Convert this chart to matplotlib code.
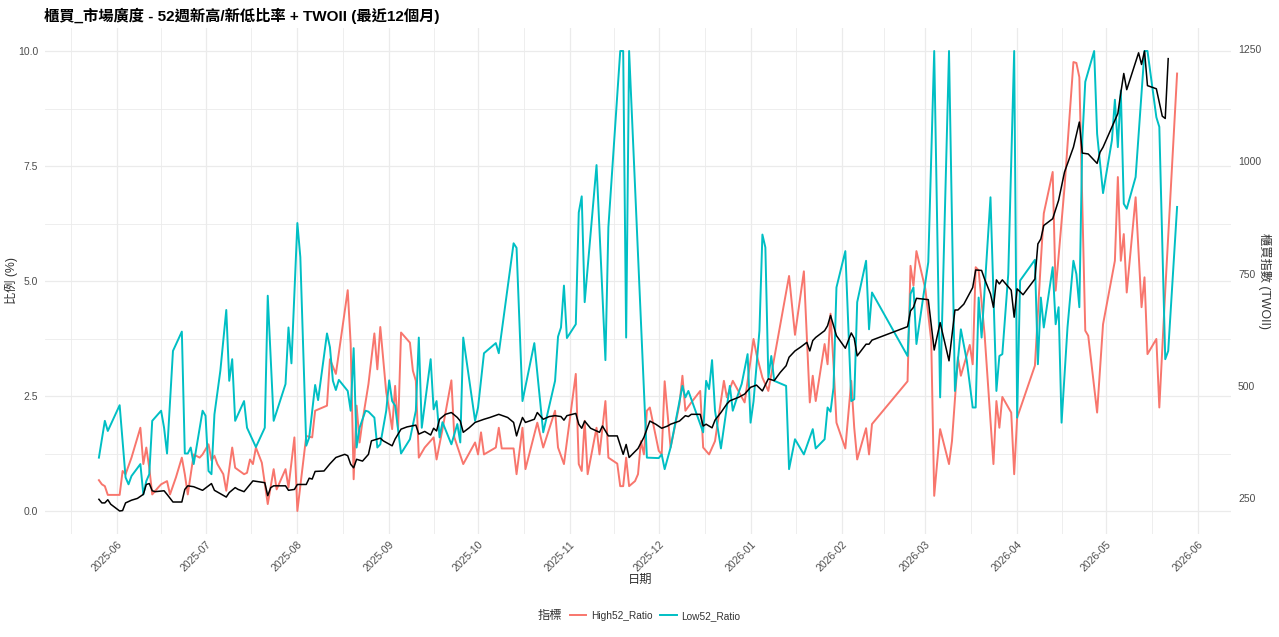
import pandas as pd
import numpy as np
import matplotlib
matplotlib.use("Agg")
import matplotlib.pyplot as plt
import matplotlib.dates as mdates
from matplotlib.ticker import FixedLocator, AutoMinorLocator
from matplotlib.lines import Line2D

# === Dados ===
low_dates = [
    "2025-05-26", "2025-05-28", "2025-05-29", "2025-06-02", "2025-06-04", "2025-06-05", "2025-06-06", "2025-06-09", "2025-06-10", "2025-06-11",
    "2025-06-12", "2025-06-13", "2025-06-16", "2025-06-17", "2025-06-18", "2025-06-20", "2025-06-23", "2025-06-24", "2025-06-25", "2025-06-26",
    "2025-06-27", "2025-06-30", "2025-07-01", "2025-07-02", "2025-07-03", "2025-07-04", "2025-07-06", "2025-07-08", "2025-07-09", "2025-07-10",
    "2025-07-11", "2025-07-14", "2025-07-15", "2025-07-18", "2025-07-21", "2025-07-22", "2025-07-24", "2025-07-28", "2025-07-29", "2025-07-30",
    "2025-08-01", "2025-08-02", "2025-08-04", "2025-08-05", "2025-08-07", "2025-08-08", "2025-08-11", "2025-08-12", "2025-08-13", "2025-08-14",
    "2025-08-15", "2025-08-18", "2025-08-19", "2025-08-20", "2025-08-21", "2025-08-22", "2025-08-24", "2025-08-25", "2025-08-27", "2025-08-28",
    "2025-08-29", "2025-08-31", "2025-09-01", "2025-09-02", "2025-09-03", "2025-09-05", "2025-09-08", "2025-09-10", "2025-09-11", "2025-09-12",
    "2025-09-15", "2025-09-16", "2025-09-17", "2025-09-18", "2025-09-19", "2025-09-22", "2025-09-24", "2025-09-25", "2025-09-26", "2025-09-30",
    "2025-10-01", "2025-10-03", "2025-10-07", "2025-10-08", "2025-10-13", "2025-10-14", "2025-10-16", "2025-10-20", "2025-10-23", "2025-10-27",
    "2025-10-28", "2025-10-29", "2025-10-30", "2025-10-31", "2025-11-03", "2025-11-04", "2025-11-05", "2025-11-06", "2025-11-10", "2025-11-13",
    "2025-11-14", "2025-11-18", "2025-11-19", "2025-11-20", "2025-11-21", "2025-11-27", "2025-12-01", "2025-12-02", "2025-12-03", "2025-12-05",
    "2025-12-09", "2025-12-10", "2025-12-11", "2025-12-16", "2025-12-17", "2025-12-18", "2025-12-19", "2025-12-20", "2025-12-22", "2025-12-25",
    "2025-12-26", "2025-12-28", "2025-12-29", "2025-12-31", "2026-01-01", "2026-01-02", "2026-01-04", "2026-01-05", "2026-01-06", "2026-01-07",
    "2026-01-08", "2026-01-09", "2026-01-13", "2026-01-14", "2026-01-16", "2026-01-19", "2026-01-22", "2026-01-23", "2026-01-26", "2026-01-27",
    "2026-01-28", "2026-01-29", "2026-01-30", "2026-02-02", "2026-02-04", "2026-02-05", "2026-02-06", "2026-02-09", "2026-02-10", "2026-02-11",
    "2026-02-23", "2026-02-24", "2026-02-25", "2026-02-26", "2026-03-02", "2026-03-04", "2026-03-06", "2026-03-09", "2026-03-11", "2026-03-13",
    "2026-03-15", "2026-03-17", "2026-03-18", "2026-03-19", "2026-03-20", "2026-03-23", "2026-03-25", "2026-03-26", "2026-03-27", "2026-03-29",
    "2026-03-31", "2026-04-01", "2026-04-02", "2026-04-07", "2026-04-08", "2026-04-09", "2026-04-10", "2026-04-13", "2026-04-14", "2026-04-15",
    "2026-04-16", "2026-04-18", "2026-04-20", "2026-04-21", "2026-04-22", "2026-04-23", "2026-04-24", "2026-04-27", "2026-04-28", "2026-04-30",
    "2026-05-03", "2026-05-04", "2026-05-05", "2026-05-06", "2026-05-07", "2026-05-08", "2026-05-11", "2026-05-14", "2026-05-15", "2026-05-18",
    "2026-05-19", "2026-05-21", "2026-05-22", "2026-05-25",
]
low_values = [
    1.16, 1.96, 1.74, 2.30, 0.73, 0.58, 0.76, 1.02, 0.36, 0.65,
    0.80, 1.96, 2.18, 1.81, 1.25, 3.48, 3.90, 1.25, 1.25, 1.38,
    1.02, 2.18, 2.07, 0.87, 0.80, 2.10, 3.05, 4.37, 2.83, 3.30,
    1.96, 2.39, 1.81, 1.39, 1.81, 4.68, 1.96, 2.76, 3.99, 3.21,
    6.26, 5.52, 1.42, 1.60, 2.74, 2.41, 3.86, 3.56, 2.83, 2.63,
    2.85, 2.61, 2.18, 3.54, 1.38, 1.81, 2.18, 2.16, 2.03, 1.38,
    1.45, 2.18, 2.84, 2.39, 2.29, 1.25, 1.56, 2.18, 3.77, 1.81,
    3.30, 2.21, 2.39, 1.60, 1.93, 1.45, 1.89, 1.49, 3.77, 1.96,
    2.25, 3.43, 3.65, 3.43, 5.82, 5.72, 2.39, 3.65, 1.71, 2.83,
    3.79, 3.99, 4.90, 3.76, 4.06, 6.49, 6.84, 4.54, 7.52, 3.28,
    6.17, 10.0, 10.0, 3.77, 10.0, 1.16, 1.15, 1.23, 0.91, 1.38,
    2.72, 2.47, 2.61, 1.71, 2.83, 2.65, 3.28, 2.18, 1.36, 2.72,
    2.18, 2.58, 2.76, 3.41, 1.92, 2.38, 3.92, 6.01, 5.73, 2.90,
    3.37, 2.83, 2.72, 0.91, 1.56, 1.23, 1.78, 1.36, 1.56, 2.25,
    2.16, 2.68, 4.86, 5.65, 2.39, 2.43, 4.54, 5.44, 3.95, 4.75,
    3.37, 4.72, 4.86, 3.63, 5.41, 10.0, 2.47, 10.0, 2.61, 3.95,
    3.27, 2.25, 2.25, 4.64, 3.77, 6.82, 2.61, 3.37, 3.41, 5.15,
    10.0, 2.03, 5.01, 5.46, 3.19, 4.64, 3.99, 5.30, 4.06, 4.43,
    1.92, 3.99, 5.44, 5.15, 4.43, 8.06, 9.33, 10.0, 8.20, 6.91,
    8.06, 8.94, 7.91, 9.14, 6.68, 6.57, 7.26, 10.0, 10.0, 8.56,
    8.35, 3.30, 3.48, 6.61,
]

high_dates = [
    "2025-05-26", "2025-05-27", "2025-05-28", "2025-05-29", "2025-06-02", "2025-06-03", "2025-06-04", "2025-06-06", "2025-06-09", "2025-06-10",
    "2025-06-11", "2025-06-12", "2025-06-13", "2025-06-15", "2025-06-16", "2025-06-18", "2025-06-19", "2025-06-21", "2025-06-23", "2025-06-24",
    "2025-06-25", "2025-06-27", "2025-06-29", "2025-06-30", "2025-07-02", "2025-07-03", "2025-07-04", "2025-07-05", "2025-07-07", "2025-07-08",
    "2025-07-10", "2025-07-11", "2025-07-14", "2025-07-15", "2025-07-16", "2025-07-17", "2025-07-18", "2025-07-20", "2025-07-22", "2025-07-24",
    "2025-07-25", "2025-07-28", "2025-07-29", "2025-07-31", "2025-08-01", "2025-08-04", "2025-08-06", "2025-08-07", "2025-08-11", "2025-08-12",
    "2025-08-14", "2025-08-18", "2025-08-19", "2025-08-20", "2025-08-21", "2025-08-22", "2025-08-23", "2025-08-25", "2025-08-27", "2025-08-28",
    "2025-08-29", "2025-08-31", "2025-09-01", "2025-09-02", "2025-09-03", "2025-09-04", "2025-09-05", "2025-09-08", "2025-09-09", "2025-09-10",
    "2025-09-11", "2025-09-13", "2025-09-16", "2025-09-17", "2025-09-19", "2025-09-22", "2025-09-23", "2025-09-26", "2025-09-30", "2025-10-01",
    "2025-10-02", "2025-10-03", "2025-10-07", "2025-10-08", "2025-10-09", "2025-10-13", "2025-10-14", "2025-10-16", "2025-10-17", "2025-10-21",
    "2025-10-23", "2025-10-27", "2025-10-28", "2025-10-30", "2025-11-03", "2025-11-04", "2025-11-05", "2025-11-06", "2025-11-07", "2025-11-10",
    "2025-11-11", "2025-11-13", "2025-11-14", "2025-11-17", "2025-11-18", "2025-11-19", "2025-11-20", "2025-11-21", "2025-11-23", "2025-11-24",
    "2025-11-25", "2025-11-26", "2025-11-27", "2025-11-28", "2025-12-01", "2025-12-02", "2025-12-03", "2025-12-05", "2025-12-08", "2025-12-09",
    "2025-12-10", "2025-12-12", "2025-12-15", "2025-12-16", "2025-12-18", "2025-12-20", "2025-12-23", "2025-12-24", "2025-12-26", "2025-12-30",
    "2026-01-02", "2026-01-03", "2026-01-05", "2026-01-07", "2026-01-14", "2026-01-16", "2026-01-19", "2026-01-21", "2026-01-22", "2026-01-23",
    "2026-01-26", "2026-01-27", "2026-01-28", "2026-01-29", "2026-01-30", "2026-02-02", "2026-02-04", "2026-02-05", "2026-02-06", "2026-02-09",
    "2026-02-10", "2026-02-11", "2026-02-23", "2026-02-24", "2026-02-25", "2026-02-26", "2026-03-01", "2026-03-03", "2026-03-04", "2026-03-06",
    "2026-03-09", "2026-03-10", "2026-03-12", "2026-03-13", "2026-03-16", "2026-03-17", "2026-03-18", "2026-03-19", "2026-03-21", "2026-03-24",
    "2026-03-25", "2026-03-26", "2026-03-27", "2026-03-30", "2026-03-31", "2026-04-01", "2026-04-07", "2026-04-09", "2026-04-10", "2026-04-13",
    "2026-04-14", "2026-04-17", "2026-04-20", "2026-04-21", "2026-04-22", "2026-04-24", "2026-04-25", "2026-04-28", "2026-04-30", "2026-05-04",
    "2026-05-05", "2026-05-06", "2026-05-07", "2026-05-08", "2026-05-11", "2026-05-13", "2026-05-14", "2026-05-15", "2026-05-18", "2026-05-19",
    "2026-05-21", "2026-05-25",
]
high_values = [
    0.67, 0.58, 0.54, 0.35, 0.35, 0.87, 0.80, 1.16, 1.81, 1.02,
    1.38, 0.94, 0.36, 0.51, 0.58, 0.65, 0.36, 0.73, 1.16, 0.80,
    0.36, 1.23, 1.16, 1.23, 1.45, 1.10, 1.20, 1.02, 0.80, 0.44,
    1.38, 0.94, 0.80, 0.83, 1.12, 1.02, 1.38, 1.05, 0.15, 0.91,
    0.47, 0.91, 0.51, 1.60, 0.00, 1.63, 1.60, 2.18, 2.29, 3.30,
    2.98, 4.80, 3.63, 0.69, 2.29, 1.49, 1.96, 2.76, 3.86, 3.08,
    4.00, 2.58, 2.21, 1.78, 2.72, 1.78, 3.88, 3.66, 3.05, 2.83,
    1.16, 1.38, 1.60, 1.12, 1.78, 2.84, 1.60, 1.02, 1.49, 1.23,
    1.71, 1.23, 1.38, 1.81, 1.36, 1.36, 0.80, 1.81, 0.91, 1.92,
    1.38, 2.18, 1.38, 1.02, 2.98, 1.02, 0.87, 1.96, 0.80, 1.81,
    1.23, 2.39, 1.16, 1.03, 0.54, 0.54, 1.16, 0.54, 0.65, 0.80,
    1.52, 1.23, 2.18, 2.25, 1.31, 1.23, 2.82, 1.38, 2.32, 2.94,
    2.18, 2.36, 2.61, 1.38, 1.23, 1.52, 2.83, 2.47, 2.83, 2.36,
    3.74, 3.41, 2.90, 2.61, 5.11, 3.83, 5.21, 2.36, 2.94, 2.39,
    3.63, 3.19, 4.29, 3.19, 1.92, 1.36, 2.83, 1.81, 1.12, 1.80,
    1.23, 1.89, 2.82, 5.33, 4.90, 5.65, 4.83, 3.70, 0.33, 1.78,
    1.02, 1.52, 3.34, 2.94, 3.61, 3.19, 5.30, 5.23, 3.85, 1.02,
    2.39, 1.81, 2.48, 2.14, 0.80, 2.03, 3.16, 5.43, 6.47, 7.37,
    4.79, 7.04, 9.76, 9.74, 9.43, 3.92, 3.81, 2.14, 4.06, 5.44,
    7.26, 5.44, 6.02, 4.75, 6.82, 4.43, 5.08, 3.41, 3.74, 2.25,
    4.79, 9.51,
]

twoii_dates = [
    "2025-05-26", "2025-05-27", "2025-05-28", "2025-05-29", "2025-05-30", "2025-06-02", "2025-06-03", "2025-06-04", "2025-06-06", "2025-06-08",
    "2025-06-10", "2025-06-11", "2025-06-12", "2025-06-13", "2025-06-14", "2025-06-17", "2025-06-18", "2025-06-20", "2025-06-23", "2025-06-24",
    "2025-06-25", "2025-06-27", "2025-06-30", "2025-07-03", "2025-07-04", "2025-07-08", "2025-07-09", "2025-07-11", "2025-07-12", "2025-07-14",
    "2025-07-17", "2025-07-21", "2025-07-22", "2025-07-23", "2025-07-24", "2025-07-28", "2025-07-29", "2025-07-31", "2025-08-01", "2025-08-04",
    "2025-08-05", "2025-08-06", "2025-08-07", "2025-08-10", "2025-08-12", "2025-08-14", "2025-08-17", "2025-08-18", "2025-08-19", "2025-08-20",
    "2025-08-21", "2025-08-23", "2025-08-25", "2025-08-26", "2025-08-29", "2025-08-30", "2025-09-02", "2025-09-03", "2025-09-05", "2025-09-07",
    "2025-09-10", "2025-09-11", "2025-09-13", "2025-09-15", "2025-09-16", "2025-09-17", "2025-09-18", "2025-09-20", "2025-09-22", "2025-09-24",
    "2025-09-25", "2025-09-26", "2025-09-28", "2025-09-30", "2025-10-03", "2025-10-05", "2025-10-08", "2025-10-11", "2025-10-13", "2025-10-14",
    "2025-10-15", "2025-10-16", "2025-10-17", "2025-10-20", "2025-10-21", "2025-10-23", "2025-10-25", "2025-10-27", "2025-10-29", "2025-10-30",
    "2025-10-31", "2025-11-03", "2025-11-04", "2025-11-05", "2025-11-06", "2025-11-08", "2025-11-11", "2025-11-12", "2025-11-14", "2025-11-17",
    "2025-11-19", "2025-11-20", "2025-11-21", "2025-11-24", "2025-11-26", "2025-11-28", "2025-11-30", "2025-12-02", "2025-12-04", "2025-12-05",
    "2025-12-08", "2025-12-10", "2025-12-11", "2025-12-12", "2025-12-15", "2025-12-16", "2025-12-17", "2025-12-19", "2025-12-20", "2025-12-22",
    "2025-12-24", "2025-12-25", "2025-12-28", "2025-12-30", "2026-01-01", "2026-01-03", "2026-01-05", "2026-01-07", "2026-01-09", "2026-01-11",
    "2026-01-13", "2026-01-14", "2026-01-16", "2026-01-18", "2026-01-20", "2026-01-21", "2026-01-22", "2026-01-23", "2026-01-26", "2026-01-27",
    "2026-01-28", "2026-01-30", "2026-02-02", "2026-02-04", "2026-02-05", "2026-02-06", "2026-02-09", "2026-02-10", "2026-02-11", "2026-02-23",
    "2026-02-24", "2026-02-25", "2026-02-26", "2026-03-02", "2026-03-04", "2026-03-06", "2026-03-09", "2026-03-11", "2026-03-12", "2026-03-14",
    "2026-03-17", "2026-03-18", "2026-03-20", "2026-03-21", "2026-03-23", "2026-03-24", "2026-03-25", "2026-03-26", "2026-03-27", "2026-03-30",
    "2026-03-31", "2026-04-01", "2026-04-03", "2026-04-07", "2026-04-08", "2026-04-09", "2026-04-10", "2026-04-13", "2026-04-15", "2026-04-17",
    "2026-04-20", "2026-04-22", "2026-04-23", "2026-04-25", "2026-04-28", "2026-04-29", "2026-04-30", "2026-05-05", "2026-05-06", "2026-05-07",
    "2026-05-08", "2026-05-12", "2026-05-13", "2026-05-14", "2026-05-15", "2026-05-18", "2026-05-20", "2026-05-21", "2026-05-22",
]
twoii_values = [
    248, 240, 240, 247, 237, 222, 223, 240, 246, 250,
    259, 281, 283, 267, 265, 267, 259, 242, 242, 270,
    278, 276, 268, 283, 268, 253, 263, 274, 270, 265,
    289, 285, 256, 274, 278, 278, 268, 270, 281, 281,
    295, 293, 310, 311, 327, 341, 348, 345, 326, 318,
    337, 333, 348, 378, 384, 378, 367, 382, 404, 409,
    413, 393, 399, 391, 406, 400, 426, 437, 441, 430,
    422, 397, 407, 419, 426, 430, 437, 430, 419, 389,
    411, 430, 419, 426, 441, 426, 432, 434, 432, 424,
    434, 439, 415, 406, 422, 406, 397, 411, 389, 389,
    348, 370, 341, 361, 386, 422, 415, 406, 411, 415,
    422, 434, 432, 437, 437, 411, 415, 407, 424, 441,
    460, 467, 475, 482, 497, 502, 489, 516, 512, 530,
    545, 564, 578, 587, 597, 578, 601, 608, 623, 634,
    657, 612, 584, 618, 606, 567, 593, 593, 602, 632,
    667, 675, 695, 692, 580, 641, 556, 669, 669, 682,
    719, 758, 757, 738, 705, 675, 736, 727, 736, 713,
    653, 716, 703, 738, 816, 827, 857, 872, 913, 976,
    1031, 1087, 1018, 1016, 995, 1020, 1031, 1106, 1152, 1195,
    1159, 1241, 1215, 1245, 1168, 1161, 1100, 1095, 1228,
]

series_labels = ["High52_Ratio", "Low52_Ratio"]
series_colors = ["#F8766D", "#00BFC4"]
twoii_ticks = [250, 500, 750, 1000, 1250]

# === Preparação ===
high_x = pd.to_datetime(high_dates)
low_x = pd.to_datetime(low_dates)
tw_x = pd.to_datetime(twoii_dates)

tw_min = min(twoii_values)
tw_max = max(twoii_values)


def idx_to_ratio(v):
    return (np.asarray(v, dtype=float) - tw_min) / (tw_max - tw_min) * 10


def ratio_to_idx(r):
    return np.asarray(r, dtype=float) / 10 * (tw_max - tw_min) + tw_min


tw_scaled = idx_to_ratio(twoii_values)

plt.rcParams["font.family"] = ["Liberation Sans", "Noto Sans CJK TC", "DejaVu Sans"]

W, H = 1279, 637
fig = plt.figure(figsize=(W / 100, H / 100), dpi=100)
ax = fig.add_axes([45 / W, 1 - 534 / H, (1231 - 45) / W, (534 - 28) / H])

# === Linhas ===
ax.plot(high_x, high_values, color=series_colors[0], lw=1.4, zorder=3)
ax.plot(low_x, low_values, color=series_colors[1], lw=1.4, zorder=4)
ax.plot(tw_x, tw_scaled, color="black", lw=1.1, zorder=5)

# === Eixos ===
xmin = mdates.date2num(min(high_x.min(), low_x.min(), tw_x.min()))
xmax = mdates.date2num(max(high_x.max(), low_x.max(), tw_x.max()))
pad = (xmax - xmin) * 0.05
ax.set_xlim(xmin - pad, xmax + pad)
ax.set_ylim(-0.5, 10.5)

ax.xaxis.set_major_locator(mdates.MonthLocator())
ax.xaxis.set_major_formatter(mdates.DateFormatter("%Y-%m"))
month_starts = mdates.date2num(pd.date_range("2025-04-01", "2026-08-01", freq="MS"))
ax.xaxis.set_minor_locator(FixedLocator((month_starts[:-1] + month_starts[1:]) / 2))
ax.set_yticks([0, 2.5, 5, 7.5, 10])
ax.set_yticklabels(["0.0", "2.5", "5.0", "7.5", "10.0"])
ax.yaxis.set_minor_locator(AutoMinorLocator(2))

ax.grid(which="major", color="#EBEBEB", lw=0.9)
ax.grid(which="minor", color="#EBEBEB", lw=0.6)
ax.set_axisbelow(True)
for s in ax.spines.values():
    s.set_visible(False)

ax.tick_params(which="both", length=0)
ax.tick_params(axis="y", labelsize=7.5, labelcolor="#4D4D4D", pad=5)
ax.tick_params(axis="x", labelsize=7.5, labelcolor="#4D4D4D", pad=4)
for lbl in ax.get_xticklabels():
    lbl.set_rotation(45)
    lbl.set_ha("right")
    lbl.set_va("top")
    lbl.set_rotation_mode("anchor")

sec = ax.secondary_yaxis("right", functions=(ratio_to_idx, idx_to_ratio))
sec.set_yticks(twoii_ticks)
sec.tick_params(length=0, labelsize=7.5, labelcolor="#4D4D4D", pad=5)
for s in sec.spines.values():
    s.set_visible(False)

# === Textos ===
fig.text(44 / W, 1 - 16 / H, "櫃買_市場廣度 - 52週新高/新低比率 + TWOII (最近12個月)",
         ha="left", va="center", fontsize=11, fontweight="bold")
fig.text(640 / W, 1 - 580 / H, "日期", ha="center", va="center", fontsize=8.8, color="#333333")
fig.text(11 / W, 1 - 281 / H, "比例 (%)", ha="center", va="center", rotation=90,
         fontsize=8.8, color="#333333")
fig.text(1265 / W, 1 - 281 / H, "櫃買指數 (TWOII)", ha="center", va="center", rotation=270,
         fontsize=8.8, color="#333333")

# === Legenda ===
handles = [Line2D([0], [0], color=c, lw=1.4) for c in series_colors]
fig.text(562 / W, 1 - 616 / H, "指標", ha="right", va="center", fontsize=8.8, color="#333333")
fig.legend(handles, series_labels, loc="center", bbox_to_anchor=(655 / W, 1 - 616 / H),
           ncol=2, frameon=False, fontsize=7.3, handlelength=1.6, handletextpad=0.45,
           columnspacing=0.8, labelcolor="#333333")

fig.savefig("out.png", dpi=100)
plt.close(fig)
